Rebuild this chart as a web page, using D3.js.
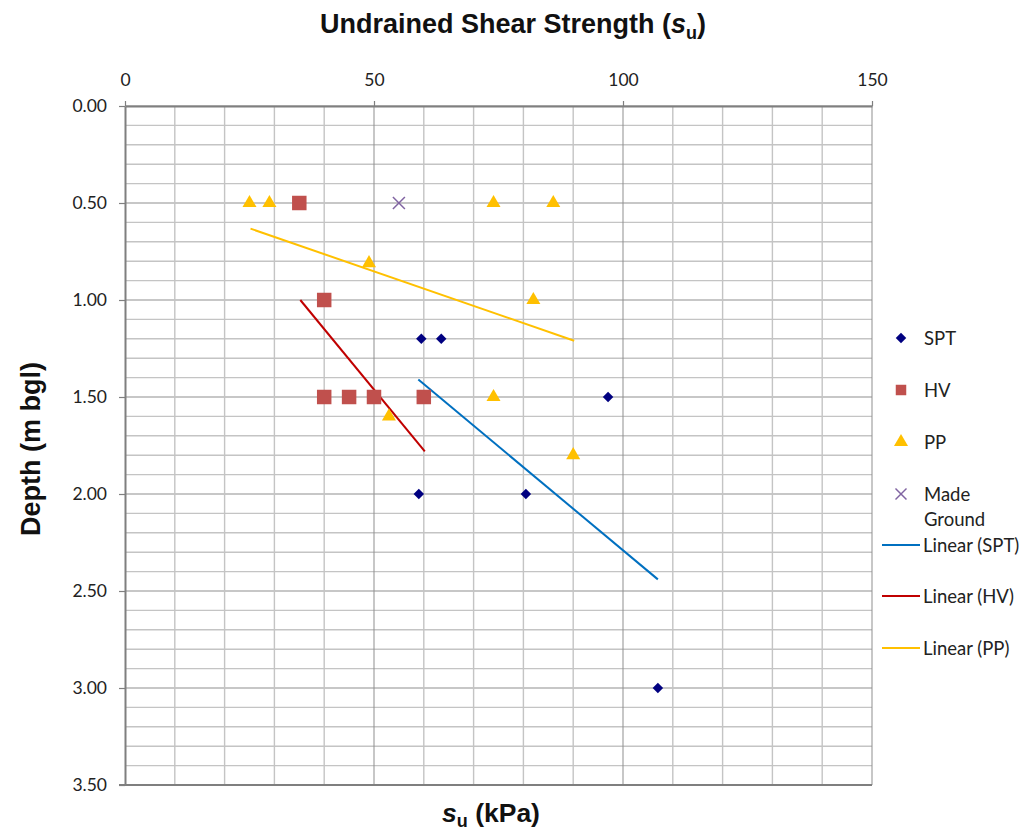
<!DOCTYPE html>
<html>
<head>
<meta charset="utf-8">
<script src="https://cdn.jsdelivr.net/npm/d3@7"></script>
<style>
  body { margin: 0; background: #fff; }
  svg { display: block; }
</style>
</head>
<body>
<svg id="chart" width="1029" height="837"></svg>
<script>
// values
let sptSu    = [59.5, 63.5, 97, 59, 80.5, 107];
let sptDepth = [1.2, 1.2, 1.5, 2.0, 2.0, 3.0];

let hvSu    = [35, 40, 40, 45, 50, 60];
let hvDepth = [0.5, 1.0, 1.5, 1.5, 1.5, 1.5];

let ppSu    = [25, 29, 74, 86, 49, 82, 74, 53, 90];
let ppDepth = [0.5, 0.5, 0.5, 0.5, 0.81, 1.0, 1.5, 1.6, 1.8];

let mgSu    = [55];
let mgDepth = [0.5];

// trendline end points (su, depth) as drawn
let trendSPT = [[58.9, 1.41], [107, 2.44]];
let trendHV  = [[35.2, 1.0], [60.2, 1.78]];
let trendPP  = [[25.2, 0.632], [90.2, 1.21]];

let xTicks = [0, 50, 100, 150];
let yTicks = [0, 0.5, 1.0, 1.5, 2.0, 2.5, 3.0, 3.5];

let svg = d3.select("#chart");

let x = d3.scaleLinear().domain([0, 150]).range([125, 872]);
let y = d3.scaleLinear().domain([0, 3.5]).range([106, 785]);

let font = "Lato, 'Open Sans', sans-serif";
let boldFont = "'Liberation Sans', Arial, sans-serif";

// grid
let grid = svg.append("g");
grid.selectAll("line.hx")
    .data(d3.range(0, 36).map(d => d / 10))
    .enter().append("line")
    .attr("x1", x(0)).attr("x2", x(150))
    .attr("y1", d => y(d)).attr("y2", d => y(d))
    .attr("stroke", (d, i) => i % 5 == 0 ? "#8f8f8f" : "#c4c4c4")
    .attr("stroke-width", (d, i) => i % 5 == 0 ? 1 : 1.4);

grid.selectAll("line.vx")
    .data(d3.range(10, 151, 10))
    .enter().append("line")
    .attr("y1", y(0)).attr("y2", y(3.5))
    .attr("x1", d => x(d)).attr("x2", d => x(d))
    .attr("stroke", d => d % 50 == 0 ? "#8f8f8f" : "#c4c4c4")
    .attr("stroke-width", d => d % 50 == 0 ? 1 : 1.4);

// axes
let xAxis = svg.append("g")
    .attr("transform", "translate(0," + y(0) + ")")
    .call(d3.axisTop(x).tickValues(xTicks).tickSize(5).tickPadding(15).tickSizeOuter(0));
let yAxis = svg.append("g")
    .attr("transform", "translate(" + x(0) + ",0)")
    .call(d3.axisLeft(y).tickValues(yTicks).tickSize(6).tickPadding(12).tickFormat(d3.format(".2f")).tickSizeOuter(0));

[xAxis, yAxis].forEach(a => {
    a.select(".domain").attr("stroke", "#7f7f7f").attr("stroke-width", 2);
    a.selectAll(".tick line").attr("stroke", "#7f7f7f").attr("stroke-width", 1.2);
    a.selectAll(".tick text").attr("font-family", font).attr("font-size", 17.5).attr("fill", "#222");
});
// bottom edge
svg.append("line")
    .attr("x1", x(0) - 6).attr("x2", x(150))
    .attr("y1", y(3.5)).attr("y2", y(3.5))
    .attr("stroke", "#7f7f7f").attr("stroke-width", 2);

// trendlines
let line = d3.line().x(d => x(d[0])).y(d => y(d[1]));
let trends = [
    {pts: trendPP, color: "#FFC000"},
    {pts: trendHV, color: "#C00000"},
    {pts: trendSPT, color: "#0070C0"}
];
svg.append("g").selectAll("path")
    .data(trends).enter().append("path")
    .attr("d", d => line(d.pts))
    .attr("fill", "none")
    .attr("stroke", d => d.color)
    .attr("stroke-width", 2);

// markers
let sym = {
    spt: d3.symbol().type(d3.symbolDiamond2).size(70),
    hv: d3.symbol().type(d3.symbolSquare).size(210),
    pp: d3.symbol().type(d3.symbolTriangle).size(85)
};

function addPoints(xs, ys, path, color) {
    svg.append("g").selectAll("path")
        .data(xs.map((v, i) => [v, ys[i]]))
        .enter().append("path")
        .attr("transform", d => "translate(" + x(d[0]) + "," + y(d[1]) + ")")
        .attr("d", path)
        .attr("fill", color);
}
addPoints(hvSu, hvDepth, sym.hv(), "#C0504D");
addPoints(sptSu, sptDepth, sym.spt(), "#000080");
addPoints(ppSu, ppDepth, sym.pp(), "#FFC000");

function cross(g, s) {
    g.append("line").attr("x1", -s).attr("y1", -s).attr("x2", s).attr("y2", s);
    g.append("line").attr("x1", -s).attr("y1", s).attr("x2", s).attr("y2", -s);
    g.attr("stroke", "#8064A2").attr("stroke-width", 1.5);
}
svg.append("g").selectAll("g")
    .data(mgSu.map((v, i) => [v, mgDepth[i]]))
    .enter().append("g")
    .attr("transform", d => "translate(" + x(d[0]) + "," + y(d[1]) + ")")
    .each(function () { cross(d3.select(this), 6); });

// legend
let leg = svg.append("g").attr("font-family", font).attr("font-size", 18.5).attr("fill", "#222");
let legItems = [
    {label: ["SPT"], y: 338, type: "spt"},
    {label: ["HV"], y: 390, type: "hv"},
    {label: ["PP"], y: 442, type: "pp"},
    {label: ["Made", "Ground"], y: 494, type: "mg"},
    {label: ["Linear (SPT)"], y: 545, type: "line", color: "#0070C0"},
    {label: ["Linear (HV)"], y: 596, type: "line", color: "#C00000"},
    {label: ["Linear (PP)"], y: 648, type: "line", color: "#FFC000"}
];
legItems.forEach(it => {
    let g = leg.append("g").attr("transform", "translate(901," + it.y + ")");
    if (it.type == "spt") g.append("path").attr("d", sym.spt()).attr("fill", "#000080");
    if (it.type == "hv") g.append("path").attr("d", d3.symbol().type(d3.symbolSquare).size(110)()).attr("fill", "#C0504D");
    if (it.type == "pp") g.append("path").attr("d", sym.pp()).attr("fill", "#FFC000");
    if (it.type == "mg") cross(g.append("g"), 5.5);
    if (it.type == "line") g.append("line").attr("x1", -19).attr("x2", 19).attr("stroke", it.color).attr("stroke-width", 2);
    let tx = it.type == "line" ? 22 : 23;
    it.label.forEach((t, i) => {
        g.append("text").attr("x", tx).attr("y", 6.5 + i * 25).text(t);
    });
});

// titles
let title = svg.append("text")
    .attr("x", 513).attr("y", 33)
    .attr("text-anchor", "middle")
    .attr("font-family", boldFont)
    .attr("font-weight", "bold").attr("font-size", 27).attr("fill", "#111");
title.append("tspan").text("Undrained Shear Strength (");
title.append("tspan").attr("font-style", "italic").text("s");
title.append("tspan").attr("font-size", 18).attr("dy", 6).text("u");
title.append("tspan").attr("dy", -6).text(")");

let xt = svg.append("text")
    .attr("x", 491).attr("y", 822)
    .attr("text-anchor", "middle")
    .attr("font-family", boldFont)
    .attr("font-weight", "bold").attr("font-size", 26.5).attr("fill", "#111");
xt.append("tspan").attr("font-style", "italic").text("s");
xt.append("tspan").attr("font-size", 18).attr("dy", 5).text("u");
xt.append("tspan").attr("dy", -5).text(" (kPa)");

svg.append("text")
    .attr("transform", "translate(40,449) rotate(-90)")
    .attr("text-anchor", "middle")
    .attr("font-family", boldFont)
    .attr("font-weight", "bold").attr("font-size", 27).attr("fill", "#111")
    .text("Depth (m bgl)");
</script>
</body>
</html>
